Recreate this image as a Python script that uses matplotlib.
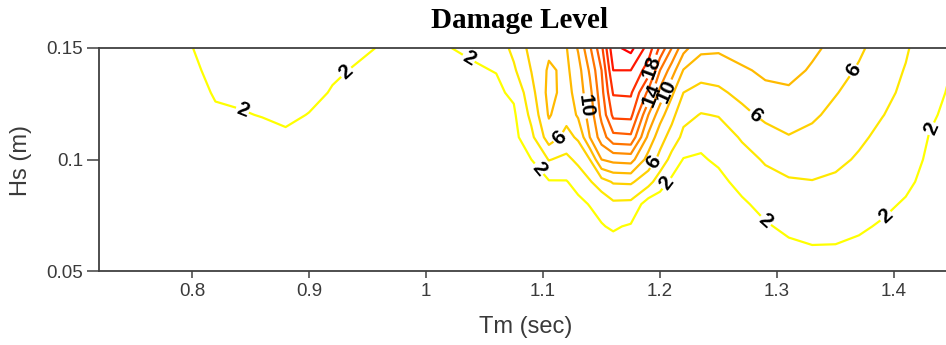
import numpy as np
import matplotlib
matplotlib.use('Agg')
import matplotlib.pyplot as plt
from matplotlib.colors import Normalize

plt.rcParams['font.family'] = ['Liberation Sans', 'DejaVu Sans']

# wave period (sec) of each measured column
tm = [0.72, 0.76, 0.80, 0.82, 0.84, 0.86, 0.88, 0.90, 0.92, 0.94, 0.96, 1.00,
      1.02, 1.04, 1.06, 1.075, 1.09, 1.105, 1.12, 1.13, 1.14, 1.15, 1.16, 1.175,
      1.19, 1.20, 1.21, 1.22, 1.235, 1.25, 1.27, 1.29, 1.31, 1.33, 1.35, 1.37,
      1.39, 1.41, 1.43, 1.45]

# wave height (m)
hs = [0.05, 0.06, 0.07, 0.08, 0.09, 0.10, 0.11, 0.12, 0.13, 0.14, 0.15]

# damage level, one list per Tm column, from Hs=0.05 up to Hs=0.15
damage_cols = [
    [0.1, 0.2, 0.3, 0.3, 0.4, 0.5, 0.6, 0.7, 0.8, 0.9, 1.0],
    [0.1, 0.2, 0.3, 0.4, 0.5, 0.6, 0.8, 1.0, 1.2, 1.4, 1.5],
    [0.2, 0.3, 0.4, 0.5, 0.7, 0.9, 1.1, 1.4, 1.6, 1.8, 1.98],
    [0.2, 0.3, 0.4, 0.6, 0.8, 1.1, 1.4, 1.85, 2.1, 2.3, 2.45],
    [0.3, 0.4, 0.5, 0.7, 0.9, 1.2, 1.5, 1.9, 2.25, 2.55, 2.8],
    [0.3, 0.4, 0.6, 0.8, 1.0, 1.3, 1.6, 2.05, 2.5, 2.8, 3.1],
    [0.3, 0.5, 0.7, 0.9, 1.1, 1.4, 1.75, 2.3, 2.7, 3.0, 3.3],
    [0.3, 0.4, 0.6, 0.8, 1.0, 1.25, 1.55, 1.95, 2.4, 2.75, 3.0],
    [0.3, 0.4, 0.5, 0.7, 0.9, 1.1, 1.35, 1.6, 1.9, 2.2, 2.5],
    [0.3, 0.4, 0.5, 0.6, 0.8, 1.0, 1.2, 1.45, 1.7, 1.9, 2.25],
    [0.2, 0.3, 0.4, 0.5, 0.7, 0.9, 1.1, 1.35, 1.6, 1.8, 1.95],
    [0.2, 0.3, 0.4, 0.5, 0.6, 0.7, 0.9, 1.1, 1.3, 1.5, 1.7],
    [0.2, 0.3, 0.4, 0.5, 0.6, 0.8, 1.0, 1.2, 1.4, 1.65, 1.98],
    [0.2, 0.3, 0.4, 0.5, 0.7, 0.9, 1.1, 1.3, 1.55, 1.85, 2.2],
    [0.2, 0.3, 0.4, 0.6, 0.8, 1.0, 1.2, 1.45, 1.7, 2.05, 2.8],
    [0.2, 0.3, 0.5, 0.7, 0.9, 1.1, 1.4, 1.7, 2.3, 3.7, 4.5],
    [0.3, 0.5, 0.7, 1.0, 1.4, 2.0, 3.5, 4.5, 5.3, 6.05, 6.6],
    [0.3, 0.6, 0.9, 1.3, 1.85, 4.1, 7.0, 8.2, 8.6, 8.3, 7.6],
    [0.3, 0.6, 0.9, 1.2, 1.9, 3.5, 5.4, 6.6, 7.3, 7.6, 7.9],
    [0.3, 0.6, 1.0, 1.5, 2.7, 4.5, 6.3, 8.3, 8.8, 9.2, 10.2],
    [0.4, 0.8, 1.2, 2.1, 3.8, 6.0, 10.0, 10.8, 11.4, 12.3, 13.7],
    [0.5, 1.1, 1.9, 2.5, 5.2, 10.0, 13.0, 14.5, 15.3, 16.0, 17.5],
    [0.5, 1.3, 2.2, 3.6, 6.2, 10.6, 15.4, 18.5, 20.2, 22.0, 23.5],
    [0.5, 1.2, 1.8, 3.5, 6.3, 10.8, 15.6, 18.6, 20.3, 22.0, 24.6],
    [0.3, 0.5, 0.7, 1.0, 4.8, 7.2, 9.5, 12.0, 15.5, 19.0, 21.2],
    [0.3, 0.5, 0.7, 1.0, 2.8, 5.4, 6.8, 8.8, 11.4, 14.0, 17.6],
    [0.2, 0.4, 0.6, 0.7, 1.6, 3.3, 5.2, 6.6, 8.4, 11.0, 14.0],
    [0.2, 0.3, 0.5, 0.7, 1.0, 1.9, 3.5, 4.6, 6.0, 7.9, 10.7],
    [0.3, 0.5, 0.7, 1.0, 1.2, 1.8, 2.5, 3.9, 5.2, 7.0, 8.4],
    [0.4, 0.6, 0.8, 1.1, 1.5, 2.3, 3.0, 4.1, 5.6, 7.0, 8.3],
    [0.5, 0.7, 1.0, 1.7, 2.6, 3.3, 4.2, 5.4, 6.6, 7.7, 9.0],
    [0.8, 1.2, 1.8, 2.6, 3.4, 4.2, 5.1, 6.5, 7.5, 8.4, 9.5],
    [1.0, 1.6, 2.4, 3.1, 3.8, 4.8, 5.9, 6.8, 7.6, 8.8, 9.8],
    [1.2, 1.9, 2.5, 3.2, 3.95, 4.6, 5.5, 6.3, 7.0, 7.7, 8.5],
    [1.2, 1.9, 2.4, 3.0, 3.7, 4.4, 5.0, 5.5, 6.1, 6.7, 7.3],
    [1.0, 1.7, 2.2, 2.8, 3.3, 3.8, 4.3, 4.8, 5.3, 5.8, 6.3],
    [0.8, 1.3, 1.85, 2.3, 2.75, 3.2, 3.6, 4.05, 4.4, 4.8, 5.2],
    [0.6, 1.0, 1.4, 1.85, 2.3, 2.7, 3.1, 3.4, 3.7, 3.9, 4.2],
    [0.4, 0.7, 1.0, 1.3, 1.55, 1.75, 1.95, 2.2, 2.45, 2.7, 2.9],
    [0.3, 0.5, 0.7, 0.9, 1.1, 1.3, 1.5, 1.65, 1.8, 1.95, 2.1],
]

plain_levels = [4, 8, 12, 16, 20, 22, 24]
label_levels = [2, 6, 10, 14, 18]

# where the level numbers sit on the lines
label_pos = [(0.843, 0.122), (0.932, 0.139), (1.036, 0.145), (1.097, 0.096),
             (1.204, 0.090), (1.288, 0.071), (1.394, 0.074), (1.431, 0.114),
             (1.112, 0.111), (1.194, 0.099), (1.280, 0.119), (1.365, 0.140),
             (1.136, 0.124), (1.204, 0.131), (1.1915, 0.129), (1.189, 0.1424)]

xticks = [0.8, 0.9, 1.0, 1.1, 1.2, 1.3, 1.4]
xticklabels = ['0.8', '0.9', '1', '1.1', '1.2', '1.3', '1.4']
yticks = [0.05, 0.1, 0.15]
yticklabels = ['0.05', '0.1', '0.15']

Z = np.array(damage_cols).T

W, H = 946, 345
fig = plt.figure(figsize=(W / 100, H / 100), dpi=100)
ax = fig.add_axes([99 / W, (H - 271) / H, 1 - 99 / W, 223 / H])

norm = Normalize(2, 24)
ax.contour(tm, hs, Z, levels=plain_levels, cmap='autumn_r', norm=norm,
           linewidths=1.6)
cs = ax.contour(tm, hs, Z, levels=label_levels, cmap='autumn_r', norm=norm,
                linewidths=1.6)

plt.rcParams['font.weight'] = 'bold'
lbls = ax.clabel(cs, fmt='%d', inline=True, inline_spacing=1,
                 fontsize=15, colors='black', manual=label_pos)
plt.rcParams['font.weight'] = 'normal'
for t in lbls:
    t.set_fontweight('bold')

ax.set_xlim(0.7205, 1.4444)
ax.set_ylim(0.05, 0.15)

ax.set_xticks(xticks)
ax.set_xticklabels(xticklabels)
ax.set_yticks(yticks)
ax.set_yticklabels(yticklabels)

grey = '#404040'
for s in ['left', 'bottom', 'top']:
    ax.spines[s].set_color(grey)
    ax.spines[s].set_linewidth(1.3)
ax.spines['right'].set_visible(False)

ax.tick_params(axis='x', direction='out', length=5, width=1.1, color=grey,
               labelsize=13.5, labelcolor='#3a3a3a', pad=4)
ax.tick_params(axis='y', direction='out', length=8.5, width=1.1, color=grey,
               labelsize=13.5, labelcolor='#3a3a3a', pad=3)

fig.text(519 / W, 1 - 20 / H, 'Damage Level', ha='center', va='center',
         fontsize=21, fontweight='bold', family='Liberation Serif')
fig.text(526 / W, 1 - 327 / H, 'Tm (sec)', ha='center', va='center',
         fontsize=17, color='#3a3a3a')
fig.text(21 / W, 1 - 161 / H, 'Hs (m)', ha='center', va='center',
         rotation=90, fontsize=17, color='#3a3a3a')

fig.savefig('out.png', dpi=100)
